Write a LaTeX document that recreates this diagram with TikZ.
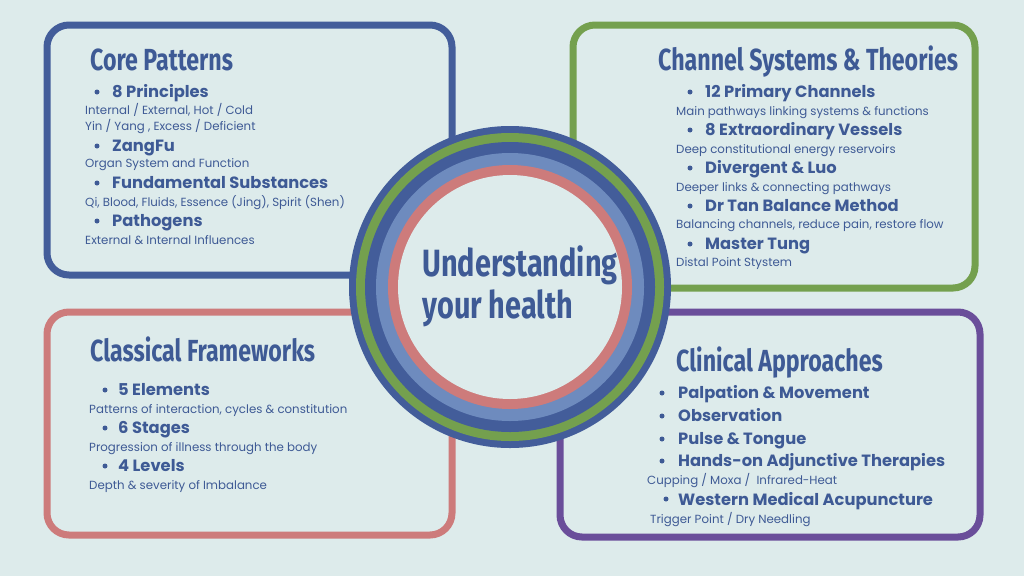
\documentclass[tikz,border=0pt]{standalone}
\usepackage{fontspec}
\setmainfont{Poppins}
\newfontfamily\titlefont[FakeStretch=0.76]{Fira Sans}
\usetikzlibrary{positioning}
\definecolor{bgc}{HTML}{DDEBEB}
\definecolor{blu}{HTML}{435D9A}
\definecolor{grn}{HTML}{74A04E}
\definecolor{pnk}{HTML}{CD7B7B}
\definecolor{lbl}{HTML}{6E8BBE}
\definecolor{prp}{HTML}{6A4E9A}
\definecolor{txt}{HTML}{3E5A95}
\tikzset{
  box/.style={line width=7pt, rounded corners=22pt},
  ttl/.style={anchor=base west, inner sep=0pt, text=txt, font=\titlefont\bfseries\fontsize{30.5}{34}\selectfont},
  itm/.style={anchor=base west, inner sep=0pt, text=txt, font=\bfseries\fontsize{16.3}{19}\selectfont},
  sub/.style={anchor=base west, inner sep=0pt, text=txt, font=\fontsize{11.8}{14}\selectfont},
  dot/.style={circle, fill=txt, inner sep=0pt, minimum size=5pt}
}
\begin{document}
\begin{tikzpicture}[x=1pt,y=-1pt]
\fill[bgc] (0,0) rectangle (1024,576);
\useasboundingbox (0,0) rectangle (1024,576);
% boxes
\draw[box, blu] (47,25) rectangle (452,275);
\draw[box, grn] (573,25) rectangle (975,288);
\draw[box, pnk] (47,312) rectangle (452,535);
\draw[box, prp] (560,312) rectangle (980,537);
% core patterns
\node[ttl] (core) at (90,70) {Core Patterns};
\foreach \t/\y in {8 Principles/97, ZangFu/151, Fundamental Substances/188, Pathogens/226}{
  \node[dot] at (97,\y-5) {};
  \node[itm] at (112,\y) {\t};
}
\node[sub] at (85,114) {Internal / External, Hot / Cold};
\node[sub] at (85,130) {Yin / Yang , Excess / Deficient};
\node[sub] at (85,167) {Organ System and Function};
\node[sub] at (85,206) {Qi, Blood, Fluids, Essence (Jing), Spirit (Shen)};
\node[sub] at (85,244) {External \& Internal Influences};
% channel systems
\node[ttl] (chan) at (658,70) {Channel Systems \& Theories};
\foreach \t/\y in {12 Primary Channels/97, 8 Extraordinary Vessels/135, Divergent \& Luo/173, Dr Tan Balance Method/211, Master Tung/249}{
  \node[dot] at (690,\y-5) {};
  \node[itm] at (705,\y) {\t};
}
\node[sub] at (676,115) {Main pathways linking systems \& functions};
\node[sub] at (676,153) {Deep constitutional energy reservoirs};
\node[sub] at (676,191) {Deeper links \& connecting pathways};
\node[sub] at (676,228) {Balancing channels, reduce pain, restore flow};
\node[sub] at (676,266) {Distal Point Stystem};
% classical frameworks
\node[ttl] (clas) at (90,361) {Classical Frameworks};
\foreach \t/\y in {5 Elements/395, 6 Stages/433, 4 Levels/471}{
  \node[dot] at (105,\y-5) {};
  \node[itm] at (118,\y) {\t};
}
\node[sub] at (89,413) {Patterns of interaction, cycles \& constitution};
\node[sub] at (89,451) {Progression of illness through the body};
\node[sub] at (89,489) {Depth \& severity of Imbalance};
% clinical approaches
\node[ttl] (clin) at (676,371) {Clinical Approaches};
\foreach \t/\y in {Palpation \& Movement/398, Observation/421, Pulse \& Tongue/444, Hands-on Adjunctive Therapies/466}{
  \node[dot] at (662,\y-5) {};
  \node[itm] at (678,\y) {\t};
}
\node[dot] at (666,499) {};
\node[itm] at (678,505) {Western Medical Acupuncture};
\node[sub] at (647,484) {Cupping / Moxa /\ \ Infrared-Heat};
\node[sub] at (650,523) {Trigger Point / Dry Needling};
% centre rings
\fill[blu] (510,287) circle (161);
\fill[grn] (510,287) circle (154);
\fill[blu] (510,287) circle (145);
\fill[lbl] (510,287) circle (134);
\fill[pnk] (510,287) circle (122);
\fill[bgc] (510,287) circle (112);
\node[text=txt, align=left, inner sep=0pt, font=\titlefont\bfseries\fontsize{38}{42}\selectfont] (ctr) at (520,286) {Understanding\\your health};
\end{tikzpicture}
\end{document}
